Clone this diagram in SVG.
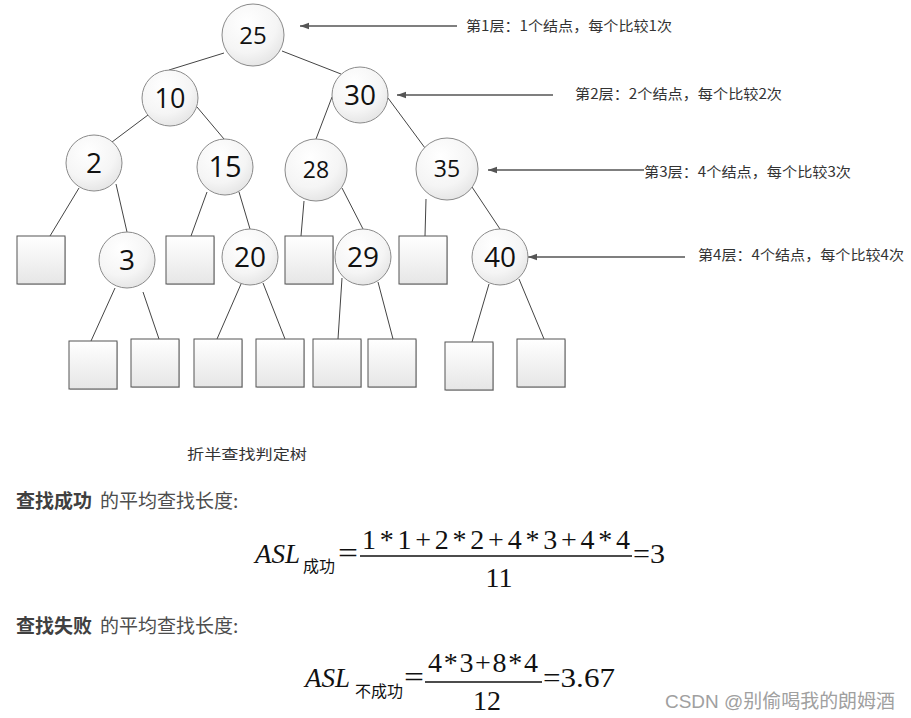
<svg xmlns="http://www.w3.org/2000/svg" width="911" height="718" viewBox="0 0 911 718">
<defs>
<radialGradient id="cg" cx="0.4" cy="0.3" r="0.8">
<stop offset="0" stop-color="#ffffff"/>
<stop offset="0.6" stop-color="#f5f5f5"/>
<stop offset="1" stop-color="#e0e0e0"/>
</radialGradient>
<linearGradient id="bg" x1="0" y1="0" x2="0" y2="1">
<stop offset="0" stop-color="#ffffff"/>
<stop offset="1" stop-color="#e6e6e6"/>
</linearGradient>
<marker id="ah" viewBox="0 0 10 10" refX="10" refY="5" markerWidth="9" markerHeight="9" markerUnits="userSpaceOnUse" orient="auto">
<path d="M10,5 L0,1.5 L0,8.5 Z" fill="#555"/>
</marker>
</defs>
<style>
.n circle{fill:url(#cg);stroke:#8a8a8a;stroke-width:1}
.n text{font-family:"Open Sans","Noto Sans",sans-serif;fill:#111;text-anchor:middle}
.b rect.s{fill:#d0d0d0;stroke:none}
.b rect.f{fill:url(#bg);stroke:#555;stroke-width:1}
.e line{stroke:#444;stroke-width:1}
.a line{stroke:#555;stroke-width:1.4}
.lbl{font-family:"Noto Sans CJK SC","Noto Sans",sans-serif;font-size:14px;fill:#333}
.cn{font-family:"Noto Sans CJK SC",sans-serif;fill:#4d4d4d}
.m{font-family:"Liberation Serif","Noto Sans CJK SC",serif;fill:#111}
</style>
<rect width="911" height="718" fill="#ffffff"/>

<g id="connectors" class="e">
<line x1="224" y1="53" x2="169" y2="70"/>
<line x1="282" y1="51" x2="341" y2="74"/>
<line x1="148" y1="115" x2="112" y2="142"/>
<line x1="197" y1="107" x2="224" y2="139"/>
<line x1="332" y1="97" x2="316" y2="139"/>
<line x1="388" y1="98" x2="425" y2="148"/>
<line x1="79" y1="188" x2="50" y2="236"/>
<line x1="116" y1="184" x2="127" y2="232"/>
<line x1="207" y1="192" x2="191" y2="236"/>
<line x1="239" y1="192" x2="250" y2="229"/>
<line x1="304" y1="201" x2="301" y2="236"/>
<line x1="342" y1="188" x2="363" y2="229"/>
<line x1="426" y1="199" x2="425" y2="236"/>
<line x1="472" y1="187" x2="500" y2="229"/>
<line x1="115" y1="288" x2="91" y2="341"/>
<line x1="143" y1="292" x2="159" y2="339"/>
<line x1="241" y1="284" x2="217" y2="339"/>
<line x1="263" y1="283" x2="285" y2="339"/>
<line x1="342" y1="278" x2="338" y2="339"/>
<line x1="378" y1="282" x2="393" y2="339"/>
<line x1="489" y1="284" x2="472" y2="342"/>
<line x1="519" y1="279" x2="544" y2="339"/>
</g>

<g id="arrows" class="a">
<line x1="457" y1="26" x2="300" y2="26" marker-end="url(#ah)"/>
<line x1="553" y1="95" x2="397" y2="95" marker-end="url(#ah)"/>
<line x1="644" y1="170" x2="488" y2="170" marker-end="url(#ah)"/>
<line x1="685" y1="257" x2="528" y2="257" marker-end="url(#ah)"/>
</g>

<g id="n25" class="n"><circle cx="253" cy="35" r="31"/><text x="253" y="44" font-size="24">25</text></g>
<g id="n10" class="n"><circle cx="170" cy="98" r="28"/><text x="170" y="108" font-size="27">10</text></g>
<g id="n30" class="n"><circle cx="360" cy="95" r="28"/><text x="360" y="105" font-size="28">30</text></g>
<g id="n2" class="n"><circle cx="94" cy="163" r="28"/><text x="94" y="173" font-size="28">2</text></g>
<g id="n15" class="n"><circle cx="225" cy="167" r="28"/><text x="225" y="177" font-size="29">15</text></g>
<g id="n28" class="n"><circle cx="316" cy="170" r="31"/><text x="316" y="178" font-size="23">28</text></g>
<g id="n35" class="n"><circle cx="447" cy="169" r="31"/><text x="447" y="177" font-size="23">35</text></g>
<g id="n3" class="n"><circle cx="127" cy="260" r="28"/><text x="127" y="270" font-size="28">3</text></g>
<g id="n20" class="n"><circle cx="250" cy="257" r="28"/><text x="250" y="267" font-size="28">20</text></g>
<g id="n29" class="n"><circle cx="363" cy="257" r="28"/><text x="363" y="267" font-size="28">29</text></g>
<g id="n40" class="n"><circle cx="500" cy="257" r="28"/><text x="500" y="267" font-size="28">40</text></g>

<g id="leaf1" class="b"><rect class="s" x="18" y="237" width="48" height="48"/><rect class="f" x="17" y="236" width="48" height="48"/></g>
<g id="leaf2" class="b"><rect class="s" x="167" y="237" width="48" height="48"/><rect class="f" x="166" y="236" width="48" height="48"/></g>
<g id="leaf3" class="b"><rect class="s" x="286" y="237" width="48" height="48"/><rect class="f" x="285" y="236" width="48" height="48"/></g>
<g id="leaf4" class="b"><rect class="s" x="400" y="237" width="48" height="48"/><rect class="f" x="399" y="236" width="48" height="48"/></g>
<g id="leaf5" class="b"><rect class="s" x="70" y="342" width="48" height="48"/><rect class="f" x="69" y="341" width="48" height="48"/></g>
<g id="leaf6" class="b"><rect class="s" x="132" y="340" width="48" height="48"/><rect class="f" x="131" y="339" width="48" height="48"/></g>
<g id="leaf7" class="b"><rect class="s" x="195" y="340" width="48" height="48"/><rect class="f" x="194" y="339" width="48" height="48"/></g>
<g id="leaf8" class="b"><rect class="s" x="257" y="340" width="48" height="48"/><rect class="f" x="256" y="339" width="48" height="48"/></g>
<g id="leaf9" class="b"><rect class="s" x="314" y="340" width="48" height="48"/><rect class="f" x="313" y="339" width="48" height="48"/></g>
<g id="leaf10" class="b"><rect class="s" x="369" y="340" width="48" height="48"/><rect class="f" x="368" y="339" width="48" height="48"/></g>
<g id="leaf11" class="b"><rect class="s" x="446" y="343" width="48" height="48"/><rect class="f" x="445" y="342" width="48" height="48"/></g>
<g id="leaf12" class="b"><rect class="s" x="518" y="340" width="48" height="48"/><rect class="f" x="517" y="339" width="48" height="48"/></g>

<g id="labels">
<text class="lbl" x="466" y="31" textLength="206" lengthAdjust="spacingAndGlyphs">第1层：1个结点，每个比较1次</text>
<text class="lbl" x="575" y="99" textLength="207" lengthAdjust="spacingAndGlyphs">第2层：2个结点，每个比较2次</text>
<text class="lbl" x="644" y="177" textLength="207" lengthAdjust="spacingAndGlyphs">第3层：4个结点，每个比较3次</text>
<text class="lbl" x="698" y="260" textLength="206" lengthAdjust="spacingAndGlyphs">第4层：4个结点，每个比较4次</text>
<text class="lbl" x="187" y="459" font-size="16" textLength="120" lengthAdjust="spacingAndGlyphs">折半查找判定树</text>
</g>

<g id="text1">
<text class="cn" x="16" y="508" font-size="19"><tspan font-weight="bold" fill="#404040">查找成功</tspan><tspan x="100">的平均查找长度:</tspan></text>
<text class="cn" x="16" y="633" font-size="19"><tspan font-weight="bold" fill="#404040">查找失败</tspan><tspan x="100">的平均查找长度:</tspan></text>
</g>

<g id="formula1" class="m">
<text x="255" y="563" font-size="27" font-style="italic">ASL</text>
<text x="303" y="572" font-size="16" font-family="Noto Sans CJK SC,sans-serif">成功</text>
<text x="338" y="563" font-size="29" textLength="20" lengthAdjust="spacingAndGlyphs">=</text>
<text x="362" y="549" font-size="28" textLength="268" lengthAdjust="spacing">1*1+2*2+4*3+4*4</text>
<line x1="360" y1="556" x2="632" y2="556" stroke="#111" stroke-width="1.3"/>
<text x="499" y="587" font-size="28" text-anchor="middle">11</text>
<text x="633" y="563" font-size="28" textLength="32" lengthAdjust="spacingAndGlyphs">=3</text>
</g>

<g id="formula2" class="m">
<text x="305" y="687" font-size="27" font-style="italic">ASL</text>
<text x="355" y="697" font-size="16" font-family="Noto Sans CJK SC,sans-serif">不成功</text>
<text x="404" y="687" font-size="29" textLength="20" lengthAdjust="spacingAndGlyphs">=</text>
<text x="428" y="672" font-size="28" textLength="110" lengthAdjust="spacing">4*3+8*4</text>
<line x1="425" y1="682" x2="542" y2="682" stroke="#111" stroke-width="1.3"/>
<text x="487" y="710" font-size="28" text-anchor="middle">12</text>
<text x="543" y="687" font-size="28" textLength="72" lengthAdjust="spacingAndGlyphs">=3.67</text>
</g>

<text x="665" y="708" font-family="Liberation Sans,Noto Sans CJK SC,sans-serif" font-size="19" fill="#a0a0a0" textLength="230" lengthAdjust="spacingAndGlyphs">CSDN @别偷喝我的朗姆酒</text>
</svg>
